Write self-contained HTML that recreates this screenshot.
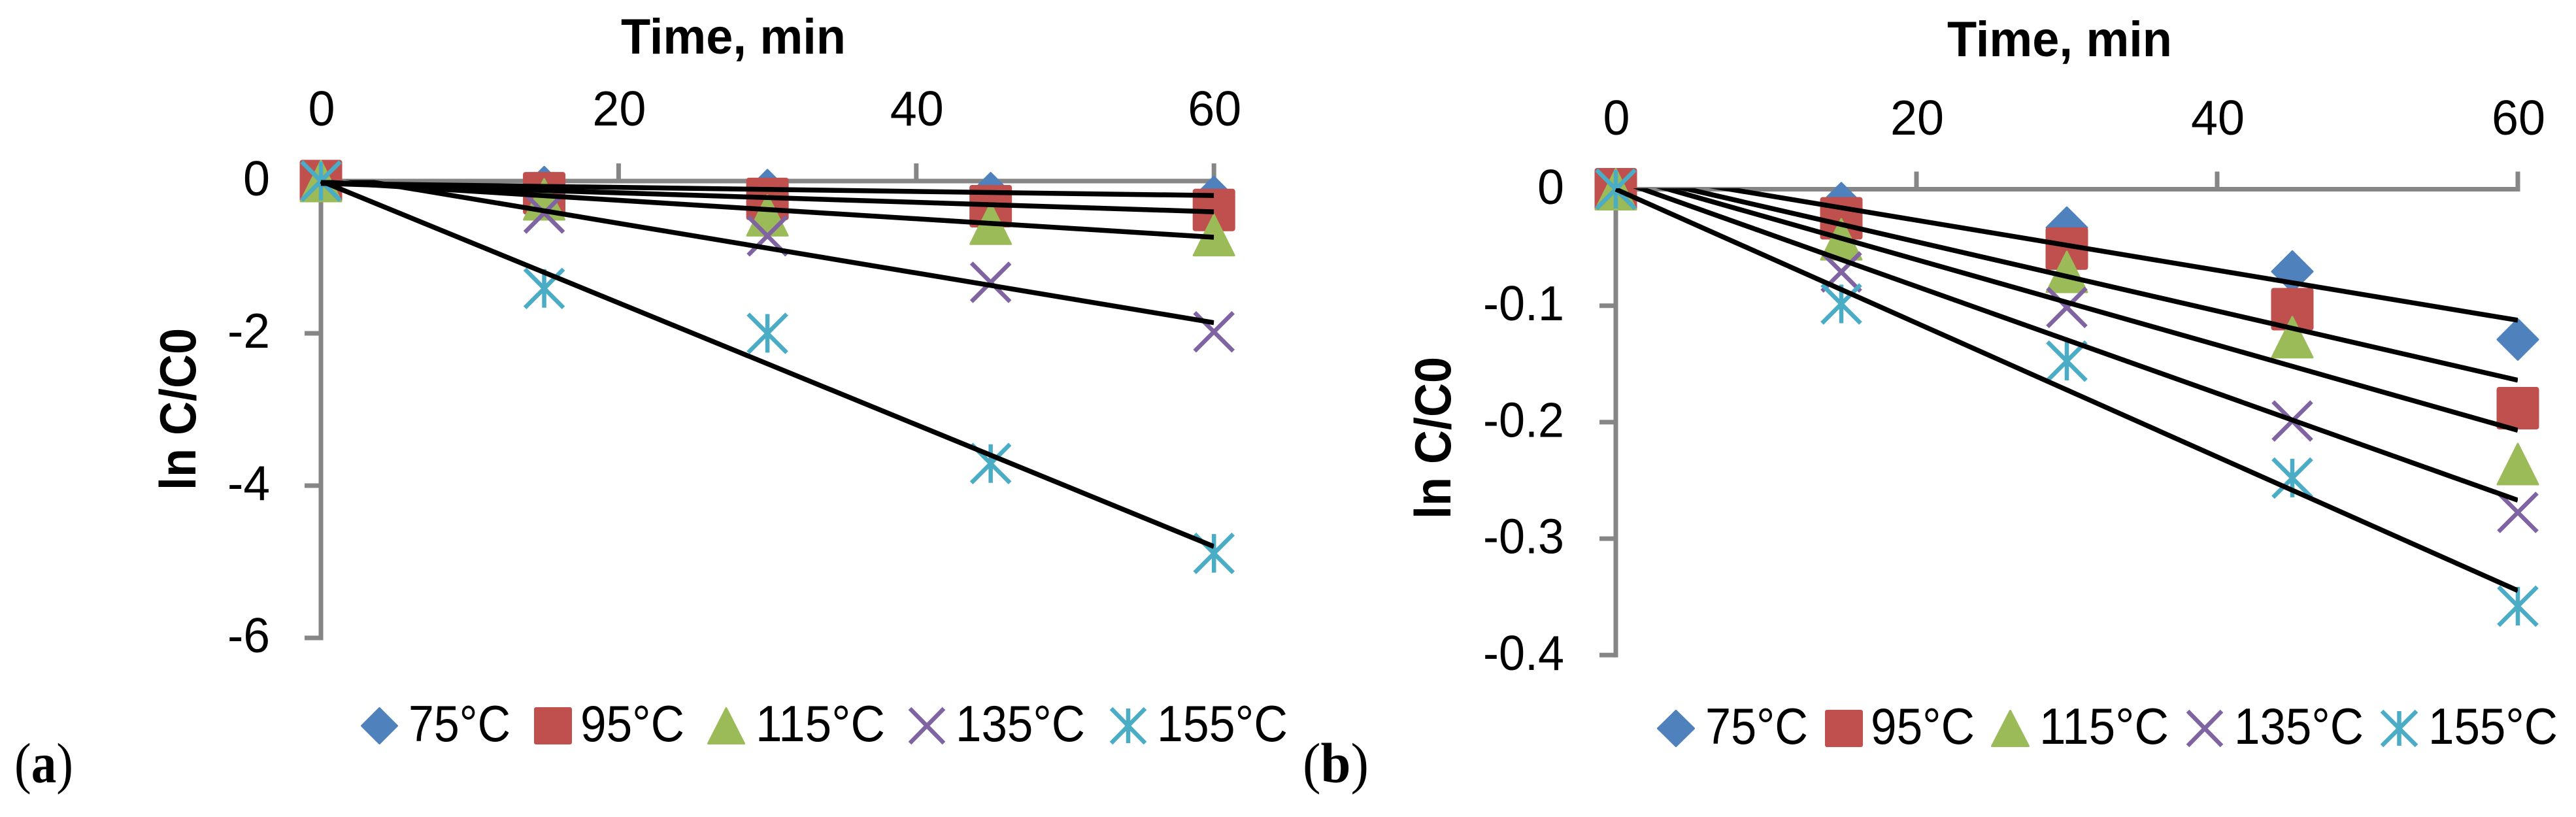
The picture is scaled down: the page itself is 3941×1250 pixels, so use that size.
<!DOCTYPE html>
<html lang="en">
<head>
<meta charset="utf-8">
<title>ln C/C0 versus time at five temperatures</title>
<style>
html,body{margin:0;padding:0;background:#fff;width:3941px;height:1250px;overflow:hidden}
svg{display:block}
text{font-family:"Liberation Sans",sans-serif;fill:#000}
.ttl{font-weight:700;font-size:76px}
.ytl{font-weight:700;font-size:78px}
.leg{font-size:78px}
.pl{font-family:"Liberation Serif",serif;font-size:87px}
.rm{stroke-width:3;stroke-linejoin:round}
</style>
</head>
<body>
<svg id="fig" xmlns="http://www.w3.org/2000/svg" width="3941" height="1250" viewBox="0 0 3941 1250">
  <rect width="3941" height="1250" fill="#fff"/>

  <g id="chart-a">
    <text class="ttl" x="950" y="82" textLength="344" lengthAdjust="spacingAndGlyphs">Time, min</text>
    <text class="ytl" transform="translate(299,750) rotate(-90)" textLength="248" lengthAdjust="spacingAndGlyphs">ln C/C0</text>
  </g>
  <g id="chart-b">
    <text class="ttl" x="2979" y="86" textLength="344" lengthAdjust="spacingAndGlyphs">Time, min</text>
    <text class="ytl" transform="translate(2219,794) rotate(-90)" textLength="248" lengthAdjust="spacingAndGlyphs">ln C/C0</text>
  </g>

  <g>
    <g>
      <polygon class="rm" points="580.5,1083.5 607.5,1110.5 580.5,1137.5 553.5,1110.5" fill="#4F81BD" stroke="#4F81BD"/>
      <text class="leg" x="625" y="1134" textLength="156" lengthAdjust="spacingAndGlyphs">75°C</text>
    </g>
    <g>
      <rect x="817" y="1082" width="58" height="57" rx="3" fill="#C0504D"/>
      <text class="leg" x="888" y="1134" textLength="159" lengthAdjust="spacingAndGlyphs">95°C</text>
    </g>
    <g>
      <polygon class="rm" points="1111,1083.5 1138.5,1137.5 1083.5,1137.5" fill="#9BBB59" stroke="#9BBB59"/>
      <text class="leg" x="1156" y="1134" textLength="198" lengthAdjust="spacingAndGlyphs">115°C</text>
    </g>
    <g>
      <path d="M1392,1084L1444,1137M1444,1084L1392,1137" stroke="#8064A2" stroke-width="6.5" fill="none"/>
      <text class="leg" x="1462" y="1134" textLength="198" lengthAdjust="spacingAndGlyphs">135°C</text>
    </g>
    <g>
      <path d="M1700,1084L1752,1137M1752,1084L1700,1137M1726,1084L1726,1137" stroke="#4BACC6" stroke-width="6.5" fill="none"/>
      <text class="leg" x="1770" y="1134" textLength="200" lengthAdjust="spacingAndGlyphs">155°C</text>
    </g>
  </g>

  <g>
    <g>
      <polygon class="rm" points="2564,1087.5 2591.5,1114.5 2564,1141.5 2536.5,1114.5" fill="#4F81BD" stroke="#4F81BD"/>
      <text class="leg" x="2609" y="1138" textLength="157" lengthAdjust="spacingAndGlyphs">75°C</text>
    </g>
    <g>
      <rect x="2792" y="1086" width="58" height="57" rx="3" fill="#C0504D"/>
      <text class="leg" x="2862" y="1138" textLength="159" lengthAdjust="spacingAndGlyphs">95°C</text>
    </g>
    <g>
      <polygon class="rm" points="3075.5,1087.5 3103.5,1141.5 3047.5,1141.5" fill="#9BBB59" stroke="#9BBB59"/>
      <text class="leg" x="3120" y="1138" textLength="198" lengthAdjust="spacingAndGlyphs">115°C</text>
    </g>
    <g>
      <path d="M3347,1088L3399,1141M3399,1088L3347,1141" stroke="#8064A2" stroke-width="6.5" fill="none"/>
      <text class="leg" x="3418" y="1138" textLength="198" lengthAdjust="spacingAndGlyphs">135°C</text>
    </g>
    <g>
      <path d="M3644,1088L3697,1141M3697,1088L3644,1141M3670.5,1088L3670.5,1141" stroke="#4BACC6" stroke-width="6.5" fill="none"/>
      <text class="leg" x="3715" y="1138" textLength="198" lengthAdjust="spacingAndGlyphs">155°C</text>
    </g>
  </g>

  <text class="pl" x="22" y="1197" textLength="90" lengthAdjust="spacingAndGlyphs">(<tspan font-weight="700">a</tspan>)</text>
  <text class="pl" x="1993" y="1197" textLength="101" lengthAdjust="spacingAndGlyphs">(<tspan font-weight="700">b</tspan>)</text>
</svg>

<script>
var sampleTimes = [0, 15, 30, 45, 60];
var xTickValues = [0, 20, 40, 60];

var yTickValuesA = [0, -2, -4, -6];
var yTickLabelsA = ['0', '-2', '-4', '-6'];
var a75 = [0, -0.08, -0.12, -0.16, -0.21];
var a95 = [0, -0.16, -0.235, -0.33, -0.38];
var a115 = [0, -0.24, -0.45, -0.56, -0.71];
var a135 = [0, -0.42, -0.72, -1.33, -1.98];
var a155 = [0, -1.41, -2.0, -3.71, -4.89];
var aTrendIntercept = [-0.03, -0.03, -0.01, 0.098, 0];
var aTrendEndValue = [-0.19, -0.404, -0.738, -1.86, -4.8];

var yTickValuesB = [0, -0.1, -0.2, -0.3, -0.4];
var yTickLabelsB = ['0', '-0.1', '-0.2', '-0.3', '-0.4'];
var b75 = [0, -0.012, -0.033, -0.0707, -0.129];
var b95 = [0, -0.025, -0.051, -0.103, -0.188];
var b115 = [0, -0.043, -0.071, -0.127, -0.236];
var b135 = [0, -0.071, -0.1015, -0.199, -0.2775];
var b155 = [0, -0.0985, -0.1476, -0.248, -0.358];
var bTrendIntercept = [0.0163, 0.0143, 0.0128, 0.0083, 0];
var bTrendEndValue = [-0.1125, -0.164, -0.207, -0.267, -0.3446];

var seriesKeys = ['75c', '95c', '115c', '135c', '155c'];
var seriesKinds = ['diamond', 'square', 'triangle', 'cross', 'star'];
var seriesColors = ['#4F81BD', '#C0504D', '#9BBB59', '#8064A2', '#4BACC6'];

var NS = 'http://www.w3.org/2000/svg';

function make(tag, name, parent) {
  var el = document.createElementNS(NS, tag);
  
  
  parent.appendChild(el);
  return el;
}

function labelWidth(s) {
  var w = 0;
  for (var i = 0; i < s.length; i++) {
    var c = s.charAt(i);
    w += c === '-' ? 24 : (c === '.' ? 18 : 41);
  }
  return w;
}

function drawMarker(parent, name, kind, color, cx, cy) {
  var r = 32.5;
  var k = 31;
  var el;
  if (kind === 'square') {
    el = make('rect', name, parent);
    el.setAttribute('x', cx - r);
    el.setAttribute('y', cy - r);
    el.setAttribute('width', 2 * r);
    el.setAttribute('height', 2 * r);
    el.setAttribute('rx', 4);
    el.setAttribute('fill', color);
  } else if (kind === 'diamond') {
    el = make('polygon', name, parent);
    el.setAttribute('points', cx + ',' + (cy - k) + ' ' + (cx + k) + ',' + cy + ' ' + cx + ',' + (cy + k) + ' ' + (cx - k) + ',' + cy);
    el.setAttribute('fill', color);
    el.setAttribute('stroke', color);
    el.setAttribute('class', 'rm');
  } else if (kind === 'triangle') {
    el = make('polygon', name, parent);
    el.setAttribute('points', cx + ',' + (cy - k) + ' ' + (cx + k) + ',' + (cy + k) + ' ' + (cx - k) + ',' + (cy + k));
    el.setAttribute('fill', color);
    el.setAttribute('stroke', color);
    el.setAttribute('class', 'rm');
  } else {
    var q = 29.5;
    var d = 'M' + (cx - q) + ',' + (cy - q) + 'L' + (cx + q) + ',' + (cy + q) + 'M' + (cx + q) + ',' + (cy - q) + 'L' + (cx - q) + ',' + (cy + q);
    if (kind === 'star') {
      d += 'M' + cx + ',' + (cy - q) + 'L' + cx + ',' + (cy + q);
    }
    el = make('path', name, parent);
    el.setAttribute('d', d);
    el.setAttribute('fill', 'none');
    el.setAttribute('stroke', color);
    el.setAttribute('stroke-width', 6.5);
  }
}

function drawChart(id, suffix, opt) {
  var root = document.getElementById(id);
  var sx = function (t) { return opt.x0 + t * opt.xUnit; };
  var sy = function (v) { return opt.y0 - v * opt.yUnit; };
  var axisColor = '#868686';
  var i, s, el;

  var yMin = opt.yTicks[opt.yTicks.length - 1];
  var xMax = xTickValues[xTickValues.length - 1];

  var clip = make('clipPath', 'trendline-clip-' + suffix, root);
  clip.setAttribute('id', 'clip-' + suffix);
  var clipRect = make('rect', 'trendline-clip-area-' + suffix, clip);
  clipRect.setAttribute('x', sx(0) - 1.5);
  clipRect.setAttribute('y', sy(0) - 1.5);
  clipRect.setAttribute('width', sx(xMax) - sx(0) + 1.5);
  clipRect.setAttribute('height', sy(yMin) - sy(0) + 1.5);

  var xAxis = make('line', 'x-axis-' + suffix, root);
  xAxis.setAttribute('x1', sx(0));
  xAxis.setAttribute('x2', sx(xMax) + 3.5);
  xAxis.setAttribute('y1', sy(0));
  xAxis.setAttribute('y2', sy(0));
  xAxis.setAttribute('stroke', axisColor);
  xAxis.setAttribute('stroke-width', 7);

  var yAxis = make('line', 'y-axis-' + suffix, root);
  yAxis.setAttribute('x1', sx(0));
  yAxis.setAttribute('x2', sx(0));
  yAxis.setAttribute('y1', sy(0));
  yAxis.setAttribute('y2', sy(yMin) + 3.5);
  yAxis.setAttribute('stroke', axisColor);
  yAxis.setAttribute('stroke-width', 7);

  for (i = 0; i < xTickValues.length; i++) {
    var tx = xTickValues[i];
    el = make('line', 'x-tick-' + suffix + '-' + tx, root);
    el.setAttribute('x1', sx(tx));
    el.setAttribute('x2', sx(tx));
    el.setAttribute('y1', sy(0) - 27);
    el.setAttribute('y2', sy(0));
    el.setAttribute('stroke', axisColor);
    el.setAttribute('stroke-width', 7);

    el = make('text', 'x-tick-label-' + suffix + '-' + tx, root);
    el.setAttribute('x', sx(tx) + 1);
    el.setAttribute('y', opt.xLabelY);
    el.setAttribute('text-anchor', 'middle');
    el.setAttribute('font-size', 75);
    el.setAttribute('textLength', labelWidth(String(tx)));
    el.setAttribute('lengthAdjust', 'spacingAndGlyphs');
    el.textContent = String(tx);
  }

  for (i = 0; i < opt.yTicks.length; i++) {
    var tv = opt.yTicks[i];
    el = make('line', 'y-tick-' + suffix + '-' + i, root);
    el.setAttribute('x1', sx(0) - 25);
    el.setAttribute('x2', sx(0));
    el.setAttribute('y1', sy(tv));
    el.setAttribute('y2', sy(tv));
    el.setAttribute('stroke', axisColor);
    el.setAttribute('stroke-width', 7);

    el = make('text', 'y-tick-label-' + suffix + '-' + i, root);
    el.setAttribute('x', opt.yLabelX);
    el.setAttribute('y', sy(tv) + opt.yLabelDy);
    el.setAttribute('text-anchor', 'end');
    el.setAttribute('font-size', 75);
    el.setAttribute('textLength', labelWidth(opt.yLabels[i]));
    el.setAttribute('lengthAdjust', 'spacingAndGlyphs');
    el.textContent = opt.yLabels[i];
  }

  for (s = 0; s < opt.series.length; s++) {
    var group = make('g', 'series-' + seriesKeys[s] + '-' + suffix, root);
    for (i = 0; i < sampleTimes.length; i++) {
      drawMarker(group, 'point-' + seriesKeys[s] + '-' + suffix + '-' + sampleTimes[i], seriesKinds[s], seriesColors[s], sx(sampleTimes[i]), sy(opt.series[s][i]));
    }
  }

  var trendGroup = make('g', 'trendlines-' + suffix, root);
  trendGroup.setAttribute('clip-path', 'url(#clip-' + suffix + ')');
  for (s = 0; s < opt.trendEnd.length; s++) {
    el = make('line', 'trendline-' + seriesKeys[s] + '-' + suffix, trendGroup);
    el.setAttribute('x1', sx(0));
    el.setAttribute('y1', sy(opt.trendStart[s]));
    el.setAttribute('x2', sx(xMax));
    el.setAttribute('y2', sy(opt.trendEnd[s]));
    el.setAttribute('stroke', '#000');
    el.setAttribute('stroke-width', 7.5);
  }
}

drawChart('chart-a', 'a', {
  x0: 491, xUnit: 22.77, y0: 277, yUnit: 116.5,
  xLabelY: 192, yLabelX: 413, yLabelDy: 22,
  yTicks: yTickValuesA, yLabels: yTickLabelsA,
  series: [a75, a95, a115, a135, a155],
  trendStart: aTrendIntercept, trendEnd: aTrendEndValue
});

drawChart('chart-b', 'b', {
  x0: 2472, xUnit: 23, y0: 289.5, yUnit: 1782,
  xLabelY: 206, yLabelX: 2393, yLabelDy: 22.5,
  yTicks: yTickValuesB, yLabels: yTickLabelsB,
  series: [b75, b95, b115, b135, b155],
  trendStart: bTrendIntercept, trendEnd: bTrendEndValue
});
</script>
</body>
</html>
